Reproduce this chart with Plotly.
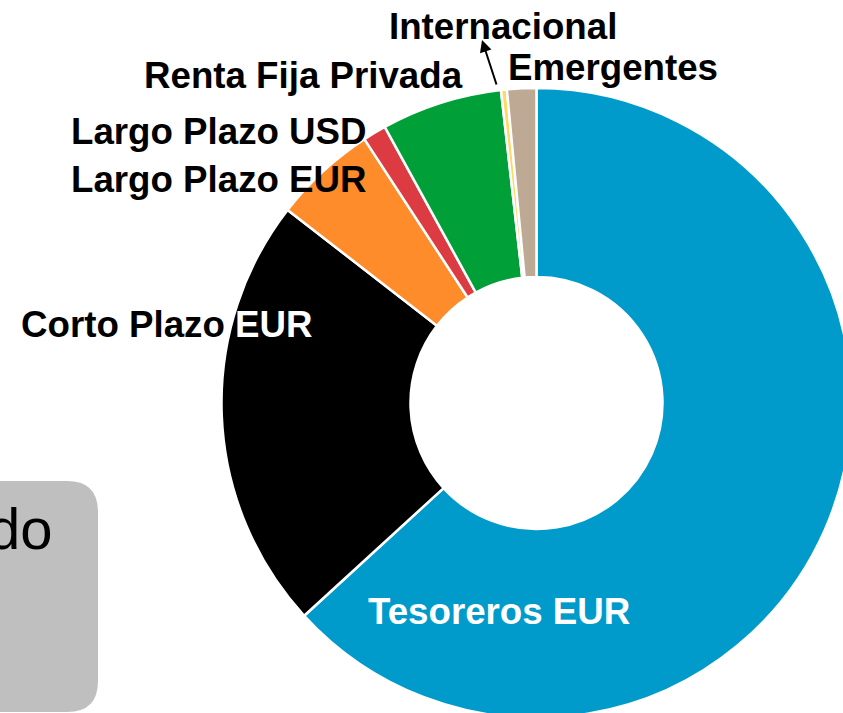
import plotly.graph_objects as go

labels = ["Tesoreros EUR", "Corto Plazo EUR", "Largo Plazo EUR", "Largo Plazo USD",
          "Renta Fija Privada", "Internacional", "Emergentes"]
values = [63.2, 22.3, 5.3, 1.2, 6.2, 0.3, 1.5]
colors = ["#009BCB", "#000000", "#FF8C2A", "#DC3C41", "#009F37", "#FFD966", "#BEA995"]

# canvas larger than the window so the donut is cut at right/bottom like the original
W, H = 1100, 800
cx, cy, r = 536.5, 403, 315


def px(x):
    return x / W


def py(y):
    return 1 - y / H


fig = go.Figure(go.Pie(
    labels=labels, values=values, hole=0.40, sort=False, direction="clockwise",
    rotation=0, textinfo="none", hoverinfo="label+percent",
    marker=dict(colors=colors, line=dict(color="white", width=2.5)),
    domain=dict(x=[px(cx - r), px(cx + r)], y=[py(cy + r), py(cy - r)]),
    showlegend=False,
))

# label centres (pixels)
label_pos = {
    "Tesoreros EUR": (499, 611),
    "Corto Plazo EUR": (167, 324),
    "Largo Plazo EUR": (219, 179),
    "Largo Plazo USD": (219, 131),
    "Renta Fija Privada": (303, 76),
    "Internacional": (503, 27),
    "Emergentes": (613, 68),
}
for lab in labels:
    x, y = label_pos[lab]
    txt = lab
    color = "black"
    if lab == "Tesoreros EUR":
        color = "white"
    elif lab == "Corto Plazo EUR":
        # the last word sits on the black slice
        txt = "Corto Plazo <span style='color:white'>EUR</span>"
    fig.add_annotation(
        x=px(x), y=py(y), xref="paper", yref="paper", text="<b>%s</b>" % txt,
        showarrow=False, xanchor="center", yanchor="middle",
        font=dict(family="Liberation Sans, Arial", size=36.7, color=color),
    )

# arrow from the thin slice up to "Internacional"
fig.add_annotation(
    x=px(482), y=py(40), xref="paper", yref="paper", ax=15, ay=46, text="",
    showarrow=True, arrowhead=2, arrowsize=1.2, arrowwidth=2, arrowcolor="black", standoff=0,
)

# grey rounded box at bottom left
x0, x1, y0, y1, rr = -20, 98, 481, 712, 31
path = ("M %f,%f L %f,%f Q %f,%f %f,%f L %f,%f Q %f,%f %f,%f L %f,%f Z" % (
    px(x0), py(y0), px(x1 - rr), py(y0), px(x1), py(y0), px(x1), py(y0 + rr),
    px(x1), py(y1 - rr), px(x1), py(y1), px(x1 - rr), py(y1), px(x0), py(y1)))
fig.add_shape(type="path", path=path, xref="paper", yref="paper",
              fillcolor="#BFBFBF", line=dict(width=0), layer="below")
fig.add_annotation(
    x=px(55), y=py(528), xref="paper", yref="paper", text="do", showarrow=False,
    xanchor="right", yanchor="middle",
    font=dict(family="Liberation Sans, Arial", size=58, color="black"),
)

fig.update_layout(
    width=W, height=H, margin=dict(l=0, r=0, t=0, b=0),
    paper_bgcolor="white", plot_bgcolor="white",
)

fig.write_html("out.html",
               post_script="document.body.style.margin='0';document.body.style.overflow='hidden';")
